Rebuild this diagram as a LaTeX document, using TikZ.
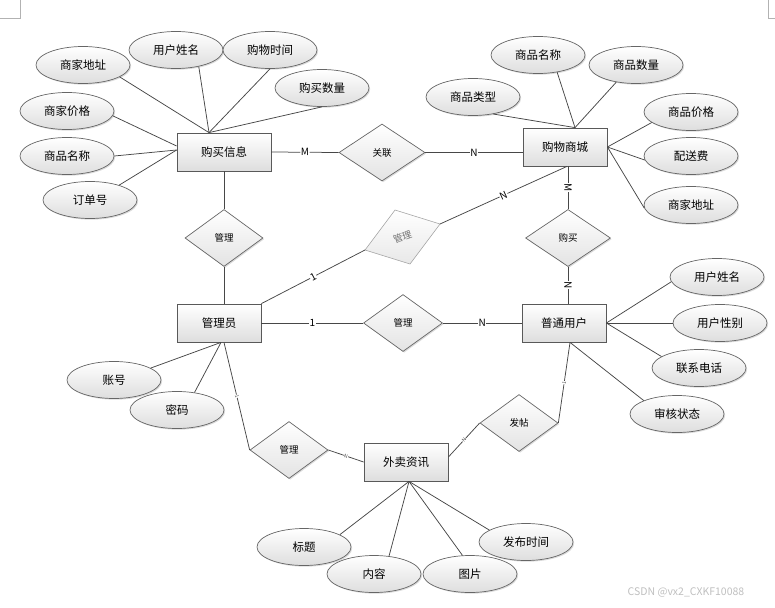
\documentclass[tikz,border=0pt]{standalone}
\usepackage{fontspec}
\setmainfont{Noto Sans CJK SC}
\usetikzlibrary{shapes.geometric,shadows,calc}
\begin{document}
\begin{tikzpicture}[x=1pt,y=-1pt,
  shad/.style={drop shadow={shadow xshift=1.2pt,shadow yshift=-1.2pt,fill=black!40,opacity=0.35}},
  ent/.style={rectangle,draw=black!65,line width=0.8pt,top color=white,bottom color=black!13,
    minimum width=84,minimum height=38,inner sep=0,font=\fontsize{11.5}{13}\selectfont,shad},
  attr/.style={ellipse,draw=black!60,line width=0.7pt,top color=white,bottom color=black!13,
    minimum width=94,minimum height=37,inner sep=0,font=\fontsize{11.5}{13}\selectfont,shad},
  rel/.style={diamond,draw=black!60,line width=0.7pt,top color=white,bottom color=black!11,
    minimum width=79,minimum height=57,inner sep=0,font=\fontsize{9.5}{11}\selectfont,shad},
  conn/.style={draw=black!72,line width=0.75pt},
  lab/.style={fill=white,inner sep=0.6pt,font=\fontsize{10}{10}\selectfont,midway,sloped},
  tlab/.style={fill=white,inner sep=0.2pt,font=\fontsize{5}{5}\selectfont,midway,sloped,text=black!70}
]
\useasboundingbox (0,0) rectangle (775,607);
% page corner marks
\draw[black!30,line width=0.6pt] (20,0) -- (20,18) -- (0,18);
\draw[black!30,line width=0.6pt] (768,0) -- (768,18) -- (775,18);

% entities
\node[ent,minimum width=94] (buy) at (224,152) {购买信息};
\node[ent] (mall) at (565,147) {购物商城};
\node[ent] (admin) at (219,323) {管理员};
\node[ent] (user) at (564,323) {普通用户};
\node[ent] (news) at (406,462) {外卖资讯};

% relations
\node[rel,minimum width=86] (r1) at (382,152.5) {关联};
\node[rel,minimum width=78] (r2) at (224,238) {管理};
\node[rel,minimum width=85] (r3) at (568,238) {购买};
\node[rel] (r4) at (403,323) {管理};
\node[rel,minimum width=78] (r5) at (289,450) {管理};
\node[rel,minimum width=78] (r6) at (519,423) {发帖};

% skewed grey relation
\coordinate (pt) at (395,210);
\coordinate (pr) at (440,224);
\coordinate (pb) at (410,264);
\coordinate (pl) at (365,250);
\draw[draw=black!35,line width=0.6pt,top color=white,bottom color=black!9] (pt) -- (pr) -- (pb) -- (pl) -- cycle;
\node[rotate=20,text=black!55,font=\fontsize{9.5}{11}\selectfont] (pm) at (402.5,237) {管理};

% attributes of 购买信息
\node[attr] (ba1) at (83,65) {商家地址};
\node[attr] (ba2) at (176,50) {用户姓名};
\node[attr] (ba3) at (270,50) {购物时间};
\node[attr] (ba4) at (322,88) {购买数量};
\node[attr] (ba5) at (67,111) {商家价格};
\node[attr] (ba6) at (67,156) {商品名称};
\node[attr] (ba7) at (90,200) {订单号};

% attributes of 购物商城
\node[attr] (ma1) at (538,55) {商品名称};
\node[attr] (ma2) at (636,65) {商品数量};
\node[attr] (ma3) at (473,97) {商品类型};
\node[attr] (ma4) at (691,112) {商品价格};
\node[attr] (ma5) at (691,156) {配送费};
\node[attr] (ma6) at (691,205) {商家地址};

% attributes of 普通用户
\node[attr] (ua1) at (717,277) {用户姓名};
\node[attr] (ua2) at (720,323) {用户性别};
\node[attr] (ua3) at (699,368) {联系电话};
\node[attr] (ua4) at (677,414) {审核状态};

% attributes of 管理员
\node[attr] (aa1) at (114,380) {账号};
\node[attr] (aa2) at (177,410) {密码};

% attributes of 外卖资讯
\node[attr] (na1) at (304,547) {标题};
\node[attr] (na2) at (374,574) {内容};
\node[attr] (na3) at (470,574) {图片};
\node[attr] (na4) at (526,542) {发布时间};

% attribute connectors
\coordinate (bh) at ([xshift=-15pt]buy.north);
\draw[conn] (bh) -- (ba1.-18);
\draw[conn] (bh) -- (ba2.-36);
\draw[conn] (bh) -- (ba3.south);
\draw[conn] (bh) -- (ba4.south);
\draw[conn] ([yshift=6pt]buy.west) -- (ba5.-6);
\draw[conn] ([yshift=2pt]buy.west) -- (ba6.east);
\draw[conn] ([yshift=2pt]buy.west) -- (ba7.27);

\coordinate (mh) at ([xshift=10pt]mall.north);
\draw[conn] (mh) -- (ma1.-42);
\draw[conn] (mh) -- (ma2.-139);
\draw[conn] (mh) -- (ma3.-40);
\draw[conn] (mall.east) -- (ma4.-165);
\draw[conn] (mall.east) -- (ma5.-175);
\draw[conn] (mall.east) -- (ma6.-176);

\draw[conn] (user.east) -- (ua1.-174);
\draw[conn] (user.east) -- (ua2.west);
\draw[conn] (user.east) -- (ua3.163);
\draw[conn] ([xshift=6pt]user.south) -- (ua4.158);

\draw[conn] ([xshift=2pt]admin.south) -- (aa1.18);
\draw[conn] ([xshift=2pt]admin.south) -- (aa2.45);

\coordinate (nh) at ([xshift=3pt]news.south);
\draw[conn] (nh) -- (na1.19);
\draw[conn] (nh) -- (na2.50);
\draw[conn] (nh) -- (na3.112);
\draw[conn] (nh) -- (na4.162);

% relationship connectors
\draw[conn] (buy.east) -- (r1.west) node[lab]{M};
\draw[conn] (r1.east) -- (r1.east -| mall.west) node[lab]{N};
\draw[conn] (buy.south) -- (r2.north);
\draw[conn] (r2.south) -- (r2.south |- admin.north);
\draw[conn] (r3.north |- mall.south) -- (r3.north) node[lab]{M};
\draw[conn] (r3.south) -- (r3.south |- user.north) node[lab]{N};
\draw[conn] (admin.east) -- (r4.west) node[lab]{1};
\draw[conn] (r4.east) -- (user.west) node[lab]{N};
\draw[conn] (admin.north east) -- (pl) node[lab]{1};
\draw[conn] (pr) -- ([xshift=2pt]mall.south) node[lab]{N};
\draw[conn] ([xshift=5pt]admin.south) -- (r5.west) node[tlab]{1};
\draw[conn] (r5.east) -- (news.west) node[tlab]{N};
\draw[conn] ([xshift=6pt]user.south) -- (r6.east) node[tlab]{1};
\draw[conn] (r6.west) -- ([yshift=5pt]news.east) node[tlab]{N};

% watermark
\node[text=black!25,font=\fontsize{10.5}{11}\selectfont] (wm) at (686,592) {CSDN @vx2\_CXKF10088};
\end{tikzpicture}
\end{document}
